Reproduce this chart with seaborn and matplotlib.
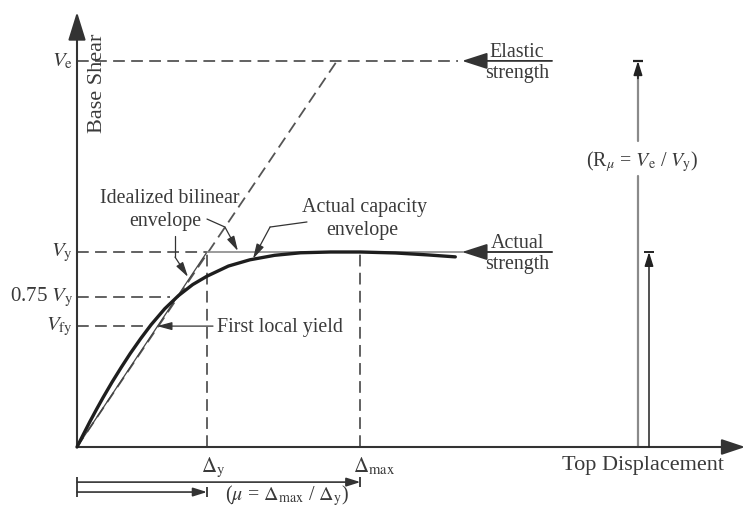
import matplotlib
matplotlib.use("Agg")
import matplotlib.pyplot as plt
import seaborn as sns
import pandas as pd

# ---------------- data (normalised units: Delta_y = 1, V_y = 1) ----------------
cap_disp = [0, 0.05, 0.10, 0.15, 0.20, 0.27, 0.34, 0.41, 0.49, 0.57, 0.675, 0.78,
            0.89, 1.0, 1.165, 1.33, 1.52, 1.72, 1.95, 2.18, 2.45, 2.70, 2.91]
cap_shear = [0, 0.066, 0.131, 0.193, 0.253, 0.333, 0.408, 0.480, 0.556, 0.627, 0.709,
             0.776, 0.833, 0.876, 0.928, 0.960, 0.983, 0.996, 1.0, 1.0, 0.995, 0.985, 0.975]
bilinear_disp = [0, 1.0, 3.65]
bilinear_shear = [0, 1.0, 1.0]
elastic_disp = [0, 2.0]
elastic_shear = [0, 1.98]

V_e = 1.98
V_y = 1.0
V_075 = 0.77
V_fy = 0.62
D_y = 1.0
D_max = 2.18

shear_levels = [V_e, V_y, V_075, V_fy]
shear_labels = [r"$V_\mathrm{e}$", r"$V_\mathrm{y}$", r"0.75 $V_\mathrm{y}$", r"$V_\mathrm{fy}$"]
shear_guide_end = [2.93, 1.0, 0.715, 0.55]
disp_levels = [D_y, D_max]
disp_labels = [r"$\Delta_\mathrm{y}$", r"$\Delta_\mathrm{max}$"]

# ---------------- style ----------------
sns.set_theme(style="white")
plt.rcParams["font.family"] = ["Liberation Serif", "DejaVu Serif"]
plt.rcParams["mathtext.fontset"] = "stix"

TXT = "#3a3a3a"
AX = "#333333"
DASH = "#555555"
GRAY = "#8a8a8a"
FS = 14.4

fig = plt.figure(figsize=(7.45, 5.1), dpi=100)
ax = fig.add_axes([0, 0, 1, 1])
XL = (-77 / 130, 668 / 130)
YL = (-62 / 195, 448 / 195)

dash_style = (0, (6.5, 3.5))

# guide lines (dashed)
for lvl, xe in zip(shear_levels, shear_guide_end):
    ax.plot([0, xe], [lvl, lvl], color=DASH, lw=1.3, ls=dash_style, zorder=2)
for d in disp_levels:
    ax.plot([d, d], [0, V_y], color=DASH, lw=1.3, ls=dash_style, zorder=2)
ax.plot(elastic_disp, elastic_shear, color=DASH, lw=1.3, ls=dash_style, zorder=2)

# idealized bilinear envelope
ax.plot(bilinear_disp[:2], bilinear_shear[:2], color="#444444", lw=0.9, zorder=3)
ax.plot(bilinear_disp[1:], bilinear_shear[1:], color=GRAY, lw=1.2, zorder=3)

# actual capacity curve
df = pd.DataFrame({"disp": cap_disp, "shear": cap_shear})
sns.lineplot(data=df, x="disp", y="shear", ax=ax, color="#1e1e1e", lw=2.4,
             sort=False, estimator=None, zorder=4, solid_capstyle="round",
             solid_joinstyle="round")
ax.set_xlabel("")
ax.set_ylabel("")
ax.set_xlim(*XL)
ax.set_ylim(*YL)
ax.axis("off")

# axes with arrow heads
ax.annotate("", xy=(0, 2.231), xytext=(0, 0),
            arrowprops=dict(arrowstyle="-|>,head_length=1.45,head_width=0.45",
                            lw=1.5, color=AX, shrinkA=0, shrinkB=0))
ax.annotate("", xy=(5.14, 0), xytext=(0, 0),
            arrowprops=dict(arrowstyle="-|>,head_length=1.2,head_width=0.4",
                            lw=1.5, color=AX, shrinkA=0, shrinkB=0))

# level labels on y axis
for lvl, lab in zip(shear_levels, shear_labels):
    ax.text(-0.03, lvl, lab, ha="right", va="center", fontsize=15, color=TXT)
for d, lab, off in zip(disp_levels, disp_labels, [0.046, 0.057]):
    ax.text(d - off, -0.04, lab, ha="left", va="top", fontsize=15, color=TXT)

ax.text(0.16, 1.87, "Base Shear", rotation=90, ha="center", va="center",
        fontsize=16, color=TXT)
ax.text(3.73, -0.04, "Top Displacement", ha="left", va="top", fontsize=16, color=TXT)

# strength arrows on the right
small_head = "-|>,head_length=1.3,head_width=0.42"
for lvl, top, bot in [(V_e, "Elastic", "strength"), (V_y, "Actual", "strength")]:
    ax.annotate("", xy=(2.962, lvl), xytext=(3.654, lvl),
                arrowprops=dict(arrowstyle=small_head, lw=1.3, color=AX,
                                shrinkA=0, shrinkB=0))
    ax.text(3.385, lvl + 0.025, top, ha="center", va="baseline", fontsize=FS, color=TXT)
    ax.text(3.385, lvl - 0.012, bot, ha="center", va="top", fontsize=FS, color=TXT)

# R_mu arrows
xr1, xr2 = 4.315, 4.40
head_s = "-|>,head_length=0.7,head_width=0.22"
ax.plot([xr1, xr1], [0, 1.39], color=GRAY, lw=1.6, zorder=2)
ax.plot([xr1, xr1], [1.569, V_e - 0.05], color=GRAY, lw=1.6, zorder=2)
ax.annotate("", xy=(xr1, V_e), xytext=(xr1, V_e - 0.09),
            arrowprops=dict(arrowstyle=head_s, lw=1.2, color="#222222",
                            shrinkA=0, shrinkB=0))
ax.plot([xr1], [V_e], marker="_", ms=7, mew=1.6, color="#222222")
ax.annotate("", xy=(xr2, V_y), xytext=(xr2, 0),
            arrowprops=dict(arrowstyle=head_s, lw=1.1, color="#222222",
                            shrinkA=0, shrinkB=0))
ax.plot([xr2], [V_y], marker="_", ms=7, mew=1.4, color="#222222")
ax.text(4.346, 1.467, r"(R$_{\mu}$ = $V_\mathrm{e}$ / $V_\mathrm{y}$)", ha="center",
        va="center", fontsize=FS, color=TXT)

# ductility arrows at the bottom
for d, yy in [(D_max, -0.18), (D_y, -0.231)]:
    ax.annotate("", xy=(d, yy), xytext=(0, yy),
                arrowprops=dict(arrowstyle=head_s, lw=1.2, color=AX,
                                shrinkA=0, shrinkB=0))
    ax.plot([0, d], [yy, yy], ls="none", marker="|", ms=7, mew=1.3, color=AX)
ax.text(1.615, -0.306, r"($\mu$ = $\Delta_\mathrm{max}$ / $\Delta_\mathrm{y}$)",
        ha="center", va="bottom", fontsize=FS, color=TXT)

# annotations
lead = dict(arrowstyle="-|>,head_length=0.75,head_width=0.2", lw=0.9,
            color=AX, shrinkA=0, shrinkB=0)
ax.text(0.715, 1.277, "Idealized bilinear", ha="center", va="center", fontsize=FS, color=TXT)
ax.text(0.677, 1.159, "envelope", ha="center", va="center", fontsize=FS, color=TXT)
ax.plot([1.0, 1.138], [1.169, 1.128], color=AX, lw=0.9)
ax.annotate("", xy=(1.238, 1.005), xytext=(1.138, 1.128), arrowprops=lead)
ax.plot([0.754, 0.754], [1.082, 0.974], color=AX, lw=0.9)
ax.annotate("", xy=(0.854, 0.872), xytext=(0.754, 0.974), arrowprops=lead)

ax.text(2.208, 1.231, "Actual capacity", ha="center", va="center", fontsize=FS, color=TXT)
ax.text(2.192, 1.113, "envelope", ha="center", va="center", fontsize=FS, color=TXT)
ax.plot([1.769, 1.485], [1.154, 1.128], color=AX, lw=0.9)
ax.annotate("", xy=(1.354, 0.965), xytext=(1.485, 1.128), arrowprops=lead)

ax.annotate("", xy=(0.615, V_fy), xytext=(1.046, V_fy), arrowprops=lead)
ax.text(1.077, V_fy, "First local yield", ha="left", va="center", fontsize=FS, color=TXT)

fig.savefig("out.png", dpi=100, facecolor="white")
